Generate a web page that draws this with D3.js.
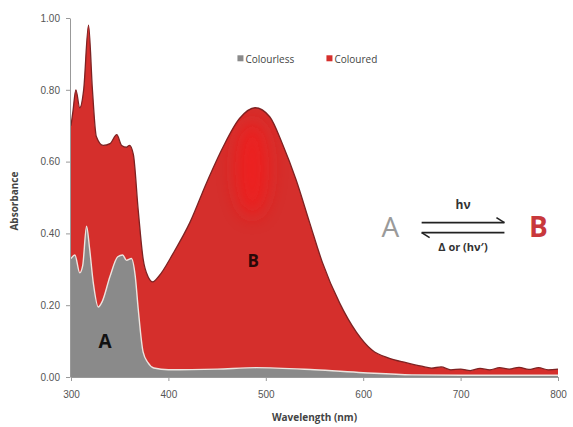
<!DOCTYPE html>
<html>
<head>
<meta charset="utf-8">
<script src="https://cdn.jsdelivr.net/npm/d3@7"></script>
<style>
  body { margin: 0; background: #fff; }
  svg { font-family: "Open Sans", "Liberation Sans", sans-serif; }
  .tick text { fill: #555; font-size: 10px; }
  .domain, .tick line { stroke: #999; }
</style>
</head>
<body>
<svg id="chart" width="573" height="427"></svg>
<script>
'use strict'

// coloured form (B) spectrum
const colouredWl = [300, 302, 305, 309, 313, 318, 322, 326, 333, 340, 347, 352, 357, 360, 364, 369, 374, 379, 384,
  390, 405, 422, 439, 456, 473, 489, 504, 517, 531, 545, 558, 576, 593, 609, 627, 644, 660,
  670, 680, 690, 700, 710, 720, 730, 740, 750, 760, 770, 780, 790, 800]
const colouredAbs = [0.70, 0.74, 0.80, 0.75, 0.80, 0.98, 0.80, 0.67, 0.645, 0.65, 0.675, 0.645, 0.64, 0.645, 0.62, 0.465, 0.33, 0.28, 0.265,
  0.28, 0.345, 0.43, 0.54, 0.64, 0.72, 0.75, 0.725, 0.65, 0.55, 0.43, 0.32, 0.205, 0.125, 0.075, 0.052, 0.04, 0.03,
  0.025, 0.028, 0.02, 0.022, 0.018, 0.024, 0.02, 0.026, 0.022, 0.027, 0.021, 0.026, 0.02, 0.022]

// colourless form (A) spectrum
const colourlessWl = [300, 304, 309, 312, 316, 319, 323, 328, 332, 340, 348, 353, 357, 362, 366, 369, 374, 379, 385,
  400, 450, 490, 550, 600, 650, 700, 800]
const colourlessAbs = [0.33, 0.34, 0.29, 0.31, 0.42, 0.36, 0.26, 0.195, 0.21, 0.28, 0.335, 0.34, 0.325, 0.33, 0.28, 0.19, 0.07, 0.04, 0.025,
  0.02, 0.022, 0.026, 0.02, 0.012, 0.006, 0.005, 0.005]

const xTicks = [300, 400, 500, 600, 700, 800]
const yTicks = [0, 0.2, 0.4, 0.6, 0.8, 1.0]
const legendLabels = ['Colourless', 'Coloured']
const colours = ['#8a8a8a', '#d52f2c']

const margin = { top: 18, right: 15, bottom: 50, left: 70 }
const width = 573 - margin.left - margin.right
const height = 427 - margin.top - margin.bottom

const svg = d3.select('#chart')
const g = svg.append('g').attr('transform', 'translate(' + margin.left + ',' + margin.top + ')')

const x = d3.scaleLinear().domain([300, 800]).range([1, width])
const y = d3.scaleLinear().domain([0, 1]).range([height, 0])

const defs = svg.append('defs')
defs.append('filter').attr('id', 'soft')
  .attr('x', '-100%').attr('y', '-100%').attr('width', '300%').attr('height', '300%')
  .append('feGaussianBlur').attr('stdDeviation', 9)
defs.append('clipPath').attr('id', 'redClip')
  .append('path')

const coloured = colouredWl.map((w, i) => [w, colouredAbs[i]])
const colourless = colourlessWl.map((w, i) => [w, colourlessAbs[i]])

const area = d3.area()
  .x(d => x(d[0]))
  .y0(y(0))
  .y1(d => y(d[1]))
  .curve(d3.curveMonotoneX)
const line = d3.line()
  .x(d => x(d[0]))
  .y(d => y(d[1]))
  .curve(d3.curveMonotoneX)

// coloured spectrum
g.append('path').attr('d', area(coloured)).attr('fill', colours[1])
defs.select('#redClip path').attr('d', area(coloured))
  .attr('transform', 'translate(' + margin.left + ',' + margin.top + ')')

// lighter glow near the visible band maximum
svg.append('g').attr('clip-path', 'url(#redClip)')
  .append('ellipse')
  .attr('cx', margin.left + x(486))
  .attr('cy', margin.top + y(0.58))
  .attr('rx', 17)
  .attr('ry', 48)
  .attr('fill', '#f21a1a')
  .attr('opacity', 0.8)
  .attr('filter', 'url(#soft)')

g.append('path').attr('d', line(coloured))
  .attr('fill', 'none').attr('stroke', '#7d2222').attr('stroke-width', 1.3)

// colourless spectrum
g.append('path').attr('d', area(colourless)).attr('fill', colours[0])
g.append('path').attr('d', line(colourless))
  .attr('fill', 'none').attr('stroke', '#ece4df').attr('stroke-width', 1.4)

// axes
g.append('g')
  .attr('transform', 'translate(0,' + height + ')')
  .call(d3.axisBottom(x).tickValues(xTicks).tickSize(4).tickPadding(10).tickSizeOuter(0))
g.append('g')
  .call(d3.axisLeft(y).tickValues(yTicks).tickFormat(d3.format('.2f')).tickSize(4).tickPadding(6).tickSizeOuter(0))

g.append('text')
  .attr('x', x(550)).attr('y', height + 44)
  .attr('text-anchor', 'middle')
  .attr('font-size', 10).attr('font-weight', 'bold').attr('fill', '#444')
  .text('Wavelength (nm)')
g.append('text')
  .attr('transform', 'translate(' + (-52) + ',' + y(0.49) + ') rotate(-90)')
  .attr('text-anchor', 'middle')
  .attr('font-size', 10).attr('font-weight', 'bold').attr('fill', '#444')
  .text('Absorbance')

// legend
const legend = g.append('g').attr('transform', 'translate(' + (x(475) - 4) + ',' + y(0.885) + ')')
legendLabels.forEach((lab, i) => {
  const item = legend.append('g').attr('transform', 'translate(' + (i * 89) + ',0)')
  item.append('rect').attr('x', 0).attr('y', -4).attr('width', 6).attr('height', 6).attr('fill', colours[i])
  item.append('text').attr('x', 8).attr('y', 0).attr('dy', '0.35em')
    .attr('font-size', 10).attr('fill', '#444').text(lab)
})

// band labels
g.append('text').attr('x', x(335)).attr('y', y(0.095))
  .attr('text-anchor', 'middle').attr('dominant-baseline', 'middle')
  .attr('font-size', 19).attr('font-weight', 'bold').attr('fill', '#111').text('A')
g.append('text').attr('x', x(487)).attr('y', y(0.32))
  .attr('text-anchor', 'middle').attr('dominant-baseline', 'middle')
  .attr('font-size', 17).attr('font-weight', 'bold').attr('fill', '#2a0808').text('B')

// photochromic scheme
const scheme = g.append('g')
const ax0 = x(660), ax1 = x(745), ay = y(0.43)
scheme.append('text').attr('x', x(628)).attr('y', y(0.41))
  .attr('text-anchor', 'middle').attr('dominant-baseline', 'middle')
  .attr('font-size', 28).attr('fill', '#9a9a9a').text('A')
scheme.append('text').attr('x', x(780)).attr('y', y(0.41))
  .attr('text-anchor', 'middle').attr('dominant-baseline', 'middle')
  .attr('font-size', 28).attr('font-weight', 'bold').attr('fill', '#c8383c').text('B')
scheme.append('line').attr('x1', ax0).attr('x2', ax1).attr('y1', ay).attr('y2', ay)
  .attr('stroke', '#222').attr('stroke-width', 1.6)
scheme.append('path').attr('d', 'M' + (ax1 - 8) + ',' + (ay - 5) + 'L' + ax1 + ',' + ay)
  .attr('stroke', '#222').attr('stroke-width', 1.6).attr('fill', 'none')
scheme.append('line').attr('x1', ax0).attr('x2', ax1).attr('y1', ay + 10).attr('y2', ay + 10)
  .attr('stroke', '#222').attr('stroke-width', 1.6)
scheme.append('path').attr('d', 'M' + (ax0 + 8) + ',' + (ay + 15) + 'L' + ax0 + ',' + (ay + 10))
  .attr('stroke', '#222').attr('stroke-width', 1.6).attr('fill', 'none')
scheme.append('text').attr('x', (ax0 + ax1) / 2).attr('y', ay - 14)
  .attr('text-anchor', 'middle').attr('font-size', 12).attr('font-weight', 'bold').attr('fill', '#333').text('hν')
scheme.append('text').attr('x', (ax0 + ax1) / 2).attr('y', ay + 28)
  .attr('text-anchor', 'middle').attr('font-size', 11).attr('font-weight', 'bold').attr('fill', '#333').text('Δ or (hν′)')
</script>
</body>
</html>
